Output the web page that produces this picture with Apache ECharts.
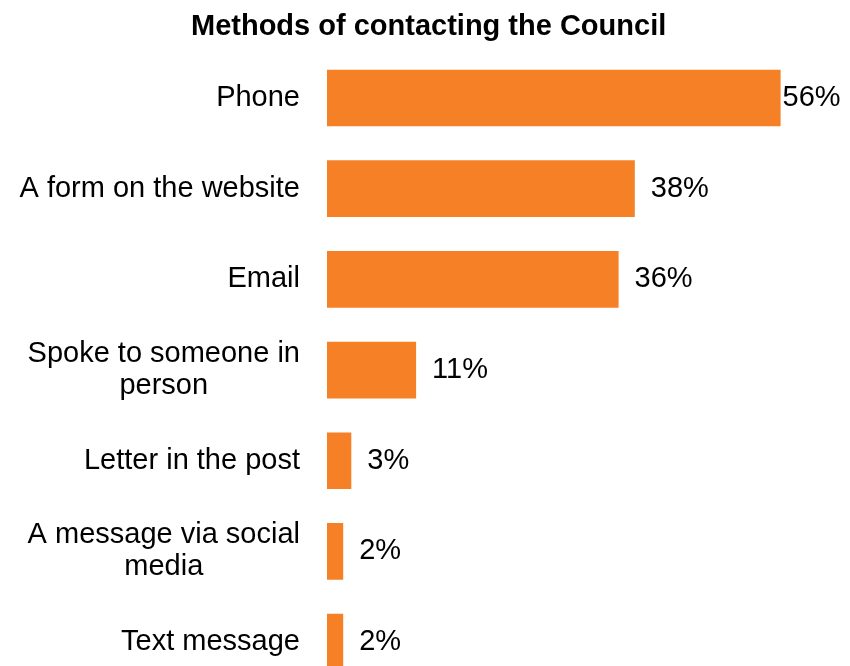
<!DOCTYPE html>
<html>
<head>
<meta charset="utf-8">
<script src="https://cdn.jsdelivr.net/npm/echarts@6/dist/echarts.min.js"></script>
<style>
  html, body { margin: 0; padding: 0; background: #ffffff; }
  #chart { width: 850px; height: 666px; }
</style>
</head>
<body>
<div id="chart"></div>
<script>
// Survey: how respondents contacted the Council (percent of respondents)
const categories = [
  'Phone',
  'A form on the website',
  'Email',
  'Spoke to someone in\nperson',
  'Letter in the post',
  'A message via social\nmedia',
  'Text message'
];
const percentages = [56, 38, 36, 11, 3, 2, 2];

const FONT = '"Liberation Sans", Arial, sans-serif';
const BAR_COLOR = '#F58025';

const chart = echarts.init(document.getElementById('chart'), null, { renderer: 'canvas' });

// Wrapped labels: each line centred inside the right-aligned label block
function categoryLabel(value) {
  return value.split('\n').map(line => '{c|' + line + '}').join('\n');
}

const barData = percentages.map((v, i) => ({
  value: v,
  // the longest bar's label sits tight against the bar end
  label: i === 0 ? { distance: 2 } : undefined
}));

chart.setOption({
  animation: false,
  backgroundColor: '#ffffff',
  title: {
    text: 'Methods of contacting the Council',
    left: 186,
    top: 7,
    textStyle: {
      fontFamily: FONT,
      fontSize: 29,
      fontWeight: 'bold',
      color: '#000000'
    }
  },
  grid: {
    left: 327,
    width: 486,
    top: 52.7,
    height: 634.7,
    containLabel: false,
    outerBoundsMode: 'none'
  },
  xAxis: {
    type: 'value',
    min: 0,
    max: 60,
    show: false
  },
  yAxis: {
    type: 'category',
    data: categories,
    inverse: true,
    axisLine: { show: false },
    axisTick: { show: false },
    splitLine: { show: false },
    axisLabel: {
      margin: 27,
      color: '#000000',
      fontFamily: FONT,
      fontSize: 29,
      lineHeight: 32,
      formatter: categoryLabel,
      rich: {
        c: {
          align: 'center',
          color: '#000000',
          fontFamily: FONT,
          fontSize: 29,
          lineHeight: 32
        }
      }
    }
  },
  series: [{
    type: 'bar',
    data: barData,
    barCategoryGap: '37.5%',
    itemStyle: { color: BAR_COLOR },
    label: {
      show: true,
      position: 'right',
      distance: 16,
      formatter: '{c}%',
      color: '#000000',
      fontFamily: FONT,
      fontSize: 29
    }
  }]
});
</script>
</body>
</html>
